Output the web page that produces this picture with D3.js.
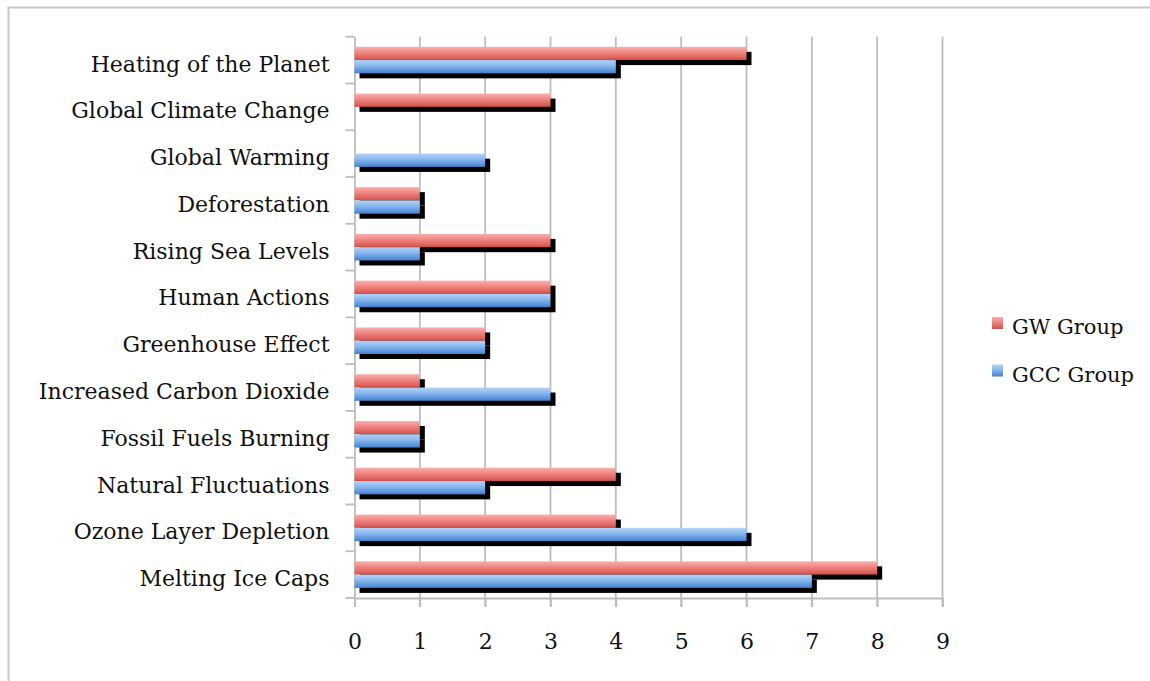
<!DOCTYPE html>
<html>
<head>
<meta charset="utf-8">
<script src="https://cdn.jsdelivr.net/npm/d3@7"></script>
<style>
  body { margin: 0; background: #fff; }
  text { font-family: "DejaVu Serif", "Liberation Serif", serif; fill: #111; }
</style>
</head>
<body>
<div id="cont"></div>
<script>
// Data
var categories = ["Heating of the Planet", "Global Climate Change", "Global Warming",
  "Deforestation", "Rising Sea Levels", "Human Actions", "Greenhouse Effect",
  "Increased Carbon Dioxide", "Fossil Fuels Burning", "Natural Fluctuations",
  "Ozone Layer Depletion", "Melting Ice Caps"];
var gwValues  = [6, 3, 0, 1, 3, 3, 2, 1, 1, 4, 4, 8];
var gccValues = [4, 0, 2, 1, 1, 3, 2, 3, 1, 2, 6, 7];
var xTicks = [0, 1, 2, 3, 4, 5, 6, 7, 8, 9];
var seriesNames = ["GW Group", "GCC Group"];

// Parameters
var width = 1150, height = 681;
var plotLeft = 354.5, plotRight = 942.5, plotTop = 36.7, plotBottom = 598;
var shadowOff = 5;
var labelFont = "DejaVu Serif";

var svg = d3.select("#cont").append("svg")
    .attr("width", width)
    .attr("height", height);

// gradients
var defs = svg.append("defs");
function addGrad(id, stops) {
  var g = defs.append("linearGradient").attr("id", id)
      .attr("x1", 0).attr("y1", 0).attr("x2", 0).attr("y2", 1);
  stops.forEach(function(s) {
    g.append("stop").attr("offset", s[0]).attr("stop-color", s[1]);
  });
}
addGrad("gradRed", [[0, "#f9b0ad"], [0.4, "#f08884"], [0.85, "#dd5e59"], [1, "#c44c47"]]);
addGrad("gradBlue", [[0, "#b3d3f8"], [0.4, "#8cb9ef"], [0.85, "#5490da"], [1, "#467dc3"]]);

defs.append("filter").attr("id", "soft")
  .append("feGaussianBlur").attr("stdDeviation", 0.6);

// outer border (only top / left visible)
svg.append("rect")
    .attr("x", 8.5).attr("y", 7.5)
    .attr("width", 1200).attr("height", 700)
    .attr("fill", "none")
    .attr("stroke", "#c8c8c8")
    .attr("stroke-width", 2);

// Scales
var x = d3.scaleLinear().domain([0, 9]).range([plotLeft, plotRight]);
var y = d3.scaleBand().domain(categories).range([plotTop, plotBottom]);
var sub = d3.scaleBand().domain(seriesNames)
    .range([0, y.bandwidth()])
    .paddingOuter(0.76);

var bars = [];
categories.forEach(function(c, i) {
  [gwValues[i], gccValues[i]].forEach(function(v, k) {
    bars.push({ cat: c, series: seriesNames[k], value: v, k: k });
  });
});

// gridlines
svg.append("g").selectAll("line")
  .data(xTicks.slice(1))
  .enter().append("line")
    .attr("x1", function(d) { return x(d); })
    .attr("x2", function(d) { return x(d); })
    .attr("y1", plotTop)
    .attr("y2", plotBottom + 9)
    .attr("stroke", "#bdbdbd")
    .attr("stroke-width", 1.8);

// axes
var xAxis = svg.append("g")
    .attr("transform", "translate(0," + plotBottom + ")")
    .call(d3.axisBottom(x).tickValues(xTicks).tickSize(9).tickPadding(26));
xAxis.select(".domain").attr("stroke", "#bdbdbd").attr("stroke-width", 1.8);
xAxis.selectAll(".tick line").attr("stroke", "#bdbdbd").attr("stroke-width", 1.8);
xAxis.selectAll("text")
    .style("font-family", labelFont)
    .style("font-size", "22px")
    .attr("fill", "#111");

var yAxis = svg.append("g")
    .attr("transform", "translate(" + plotLeft + ",0)")
    .call(d3.axisLeft(y).tickSize(0).tickPadding(25));
yAxis.select(".domain").attr("stroke", "#bdbdbd").attr("stroke-width", 1.8);
yAxis.selectAll("text")
    .style("font-family", labelFont)
    .style("font-size", "22px")
    .attr("dy", "0.52em")
    .attr("fill", "#111");

// category boundary ticks on the left axis
svg.append("g").selectAll("line")
  .data(d3.range(categories.length + 1))
  .enter().append("line")
    .attr("x1", plotLeft - 9).attr("x2", plotLeft)
    .attr("y1", function(i) { return plotTop + i * y.step(); })
    .attr("y2", function(i) { return plotTop + i * y.step(); })
    .attr("stroke", "#bdbdbd")
    .attr("stroke-width", 1.8);

// shadows first, then bars
svg.append("g").selectAll("rect")
  .data(bars)
  .enter().append("rect")
    .attr("x", x(0) + shadowOff)
    .attr("y", function(d) { return y(d.cat) + sub(d.series) + shadowOff; })
    .attr("width", function(d) { return x(d.value) - x(0); })
    .attr("height", sub.bandwidth())
    .attr("fill", "#000")
    .attr("filter", "url(#soft)");

svg.append("g").selectAll("rect")
  .data(bars)
  .enter().append("rect")
    .attr("x", x(0))
    .attr("y", function(d) { return y(d.cat) + sub(d.series); })
    .attr("width", function(d) { return x(d.value) - x(0); })
    .attr("height", sub.bandwidth())
    .attr("fill", function(d) { return d.k === 0 ? "url(#gradRed)" : "url(#gradBlue)"; });

// legend
var legend = svg.append("g").selectAll("g")
  .data(seriesNames)
  .enter().append("g")
    .attr("transform", function(d, i) { return "translate(992," + (317 + i * 47.5) + ")"; });
legend.append("rect")
    .attr("width", 11).attr("height", 12)
    .attr("fill", function(d, i) { return i === 0 ? "url(#gradRed)" : "url(#gradBlue)"; });
legend.append("text")
    .attr("x", 20).attr("y", 17)
    .style("font-family", labelFont)
    .style("font-size", "21px")
    .text(function(d) { return d; });
</script>
</body>
</html>
